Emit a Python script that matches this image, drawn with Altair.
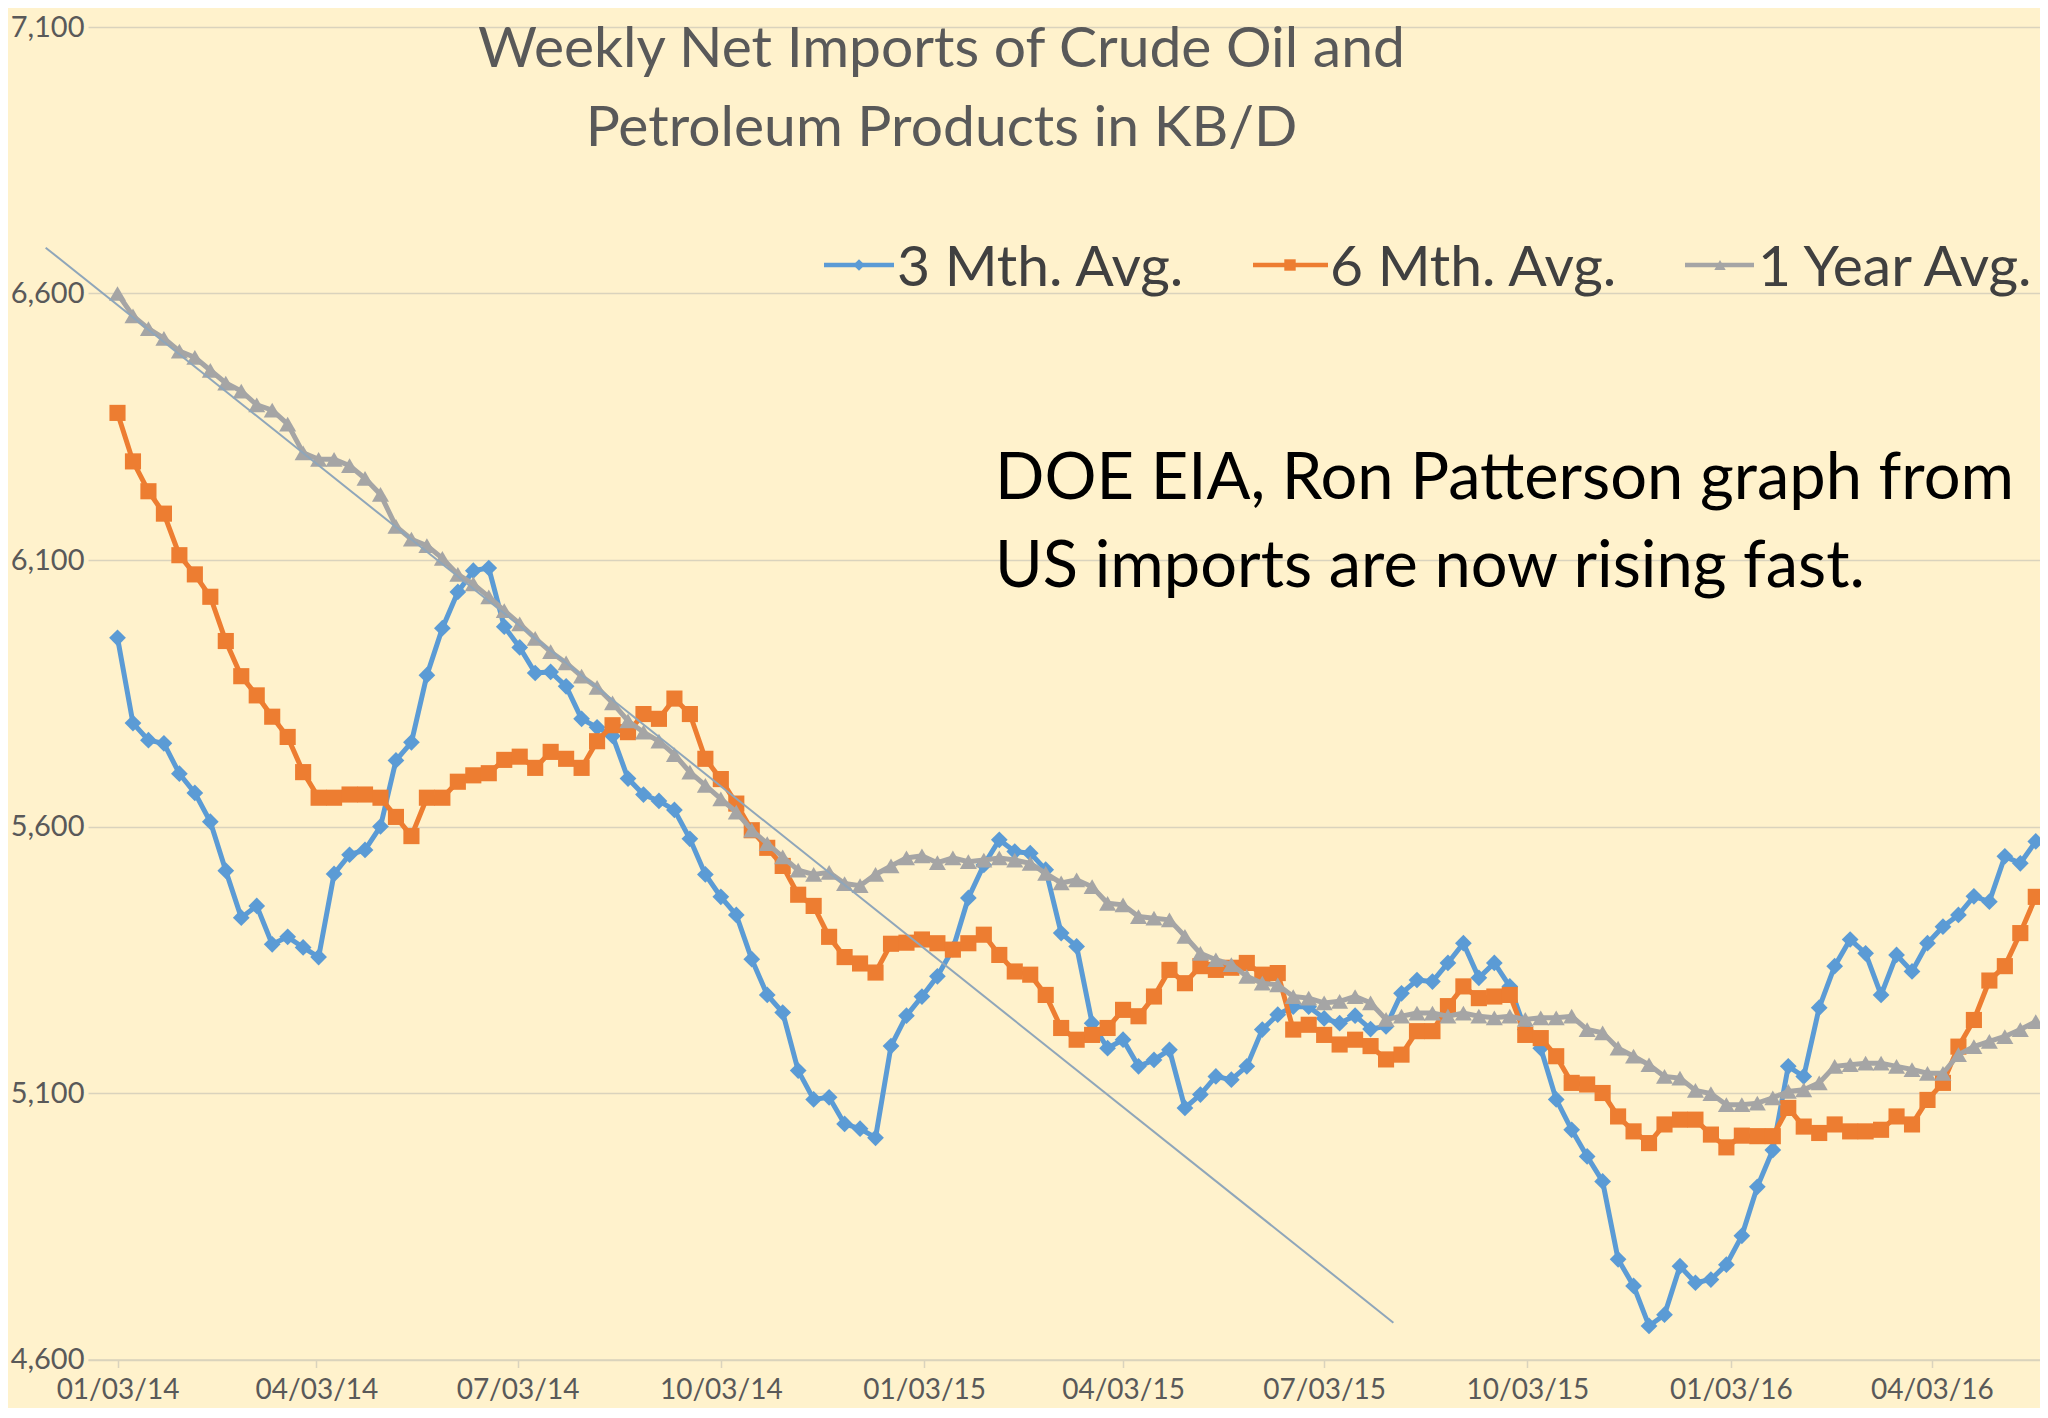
import altair as alt
import pandas as pd

START = "2014-01-03"
N_WEEKS = 125

blue = [5954, 5794, 5762, 5756, 5699, 5663, 5609, 5517, 5429, 5451,
        5379, 5393, 5373, 5355, 5511, 5547, 5556, 5600, 5724, 5758,
        5884, 5972, 6040, 6080, 6085, 5975, 5936, 5888, 5890, 5863,
        5802, 5786, 5770, 5690, 5660, 5648, 5631, 5577, 5510, 5468,
        5434, 5351, 5284, 5251, 5142, 5088, 5092, 5042, 5033, 5016,
        5188, 5245, 5281, 5319, 5370, 5466, 5528, 5575, 5553, 5550,
        5519, 5400, 5375, 5231, 5184, 5200, 5150, 5162, 5181, 5072,
        5097, 5131, 5125, 5150, 5219, 5247, 5262, 5262, 5240, 5231,
        5245, 5220, 5225, 5287, 5312, 5309, 5344, 5381, 5316, 5344,
        5300, 5219, 5184, 5088, 5031, 4981, 4934, 4788, 4738, 4663,
        4684, 4775, 4744, 4750, 4778, 4832, 4924, 4993, 5150, 5131,
        5260, 5338, 5388, 5362, 5284, 5359, 5328, 5381, 5412, 5434,
        5469, 5459, 5544, 5531, 5572]

orange = [6376, 6285, 6229, 6187, 6109, 6073, 6031, 5948, 5882, 5846,
          5806, 5768, 5702, 5654, 5654, 5660, 5660, 5654, 5618, 5582,
          5654, 5654, 5684, 5696, 5700, 5725, 5731, 5710, 5740, 5727,
          5710, 5760, 5790, 5777, 5811, 5802, 5840, 5811, 5727, 5689,
          5643, 5593, 5560, 5526, 5472, 5451, 5393, 5355, 5343, 5326,
          5380, 5382, 5388, 5381, 5369, 5381, 5397, 5359, 5328, 5322,
          5284, 5222, 5200, 5209, 5222, 5256, 5244, 5281, 5331, 5306,
          5338, 5331, 5335, 5344, 5322, 5325, 5219, 5228, 5209, 5191,
          5200, 5188, 5163, 5172, 5216, 5216, 5263, 5300, 5278, 5281,
          5284, 5209, 5203, 5169, 5119, 5116, 5100, 5056, 5028, 5006,
          5041, 5050, 5050, 5022, 4998, 5020, 5019, 5019, 5072, 5037,
          5025, 5041, 5028, 5028, 5031, 5056, 5041, 5087, 5119, 5187,
          5237, 5311, 5338, 5400, 5468]

gray = [6600, 6558, 6534, 6516, 6492, 6480, 6456, 6432, 6417, 6391,
        6381, 6355, 6301, 6289, 6289, 6277, 6253, 6223, 6163, 6139,
        6127, 6103, 6073, 6055, 6031, 6005, 5980, 5953, 5928, 5907,
        5882, 5861, 5832, 5798, 5777, 5760, 5735, 5702, 5677, 5652,
        5627, 5593, 5568, 5543, 5518, 5510, 5514, 5493, 5489, 5510,
        5526, 5541, 5545, 5532, 5541, 5534, 5537, 5541, 5537, 5531,
        5512, 5494, 5500, 5487, 5456, 5453, 5431, 5428, 5425, 5394,
        5362, 5350, 5341, 5319, 5306, 5303, 5281, 5278, 5269, 5272,
        5281, 5269, 5238, 5244, 5250, 5250, 5244, 5250, 5244, 5241,
        5244, 5238, 5241, 5241, 5244, 5219, 5213, 5184, 5169, 5153,
        5131, 5128, 5105, 5099, 5078, 5078, 5081, 5091, 5103, 5106,
        5119, 5150, 5153, 5156, 5156, 5150, 5144, 5137, 5137, 5172,
        5187, 5197, 5206, 5219, 5234]

series_names = ["3 Mth. Avg.", "6 Mth. Avg.", "1 Year Avg."]
series_colors = ["#5B9BD5", "#ED7D31", "#A5A5A5"]
series_shapes = ["diamond", "square", "triangle-up"]
series_sizes = [280, 260, 290]
tick_months = [(2014, 1), (2014, 4), (2014, 7), (2014, 10), (2015, 1),
               (2015, 4), (2015, 7), (2015, 10), (2016, 1), (2016, 4)]
y_ticks = [4600, 5100, 5600, 6100, 6600, 7100]
title_lines = ["Weekly Net Imports of Crude Oil and", "Petroleum Products in KB/D"]
note_lines = ["DOE EIA, Ron Patterson graph from", "US imports are now rising fast."]
trend_dates = ["2013-12-01T12:00:00", "2015-08-03T08:00:00"]
trend_values = [6686, 4669]

BG = "#FFF2CC"
GRID = "#DAD3BD"
FONT = "Lato"

dates = pd.date_range(START, periods=N_WEEKS, freq="7D")
PLOT_W, PLOT_H = 1952, 1332.5
TOP = 19.0
PX_PER_DAY = 2.21
d0 = pd.Timestamp(START) - pd.Timedelta(days=29.5 / PX_PER_DAY)
d1 = d0 + pd.Timedelta(days=PLOT_W / PX_PER_DAY)
dy = 15.5 - TOP  # keep page positions of overlaid texts


def dt(t):
    return alt.DateTime(year=t.year, month=t.month, date=t.day,
                        hours=t.hour, minutes=t.minute)


x_enc = alt.X(
    "date:T",
    scale=alt.Scale(domain=[dt(d0), dt(d1)], nice=False),
    axis=alt.Axis(
        values=[alt.DateTime(year=y, month=m, date=3) for y, m in tick_months],
        format="%m/%d/%y", title=None, grid=False,
        domain=True, domainColor=GRID, domainWidth=1.5,
        ticks=True, tickColor=GRID, tickWidth=1.5, tickSize=8,
        labelFont=FONT, labelFontSize=28, labelColor="#595959",
        labelBaseline="middle", labelPadding=23,
        labelFlush=False, labelOverlap=False,
    ),
)
y_enc = alt.Y(
    "value:Q",
    scale=alt.Scale(domain=[4600, 7100], nice=False, zero=False),
    axis=alt.Axis(
        values=y_ticks, format=",d", title=None,
        grid=True, gridColor=GRID, gridWidth=1.5,
        domain=False, ticks=False,
        labelFont=FONT, labelFontSize=29, labelColor="#595959",
        labelPadding=4,
    ),
)

layers = []
for name, vals, color, shape, size in zip(series_names, [blue, orange, gray],
                                          series_colors, series_shapes,
                                          series_sizes):
    df = pd.DataFrame({"date": dates, "value": vals})
    layers.append(
        alt.Chart(df).mark_line(
            color=color, strokeWidth=5,
            point=alt.OverlayMarkDef(shape=shape, size=size, filled=True,
                                     color=color, opacity=1),
        ).encode(x=x_enc, y=y_enc)
    )

trend_df = pd.DataFrame({"date": trend_dates, "value": trend_values})
layers.append(
    alt.Chart(trend_df).mark_line(color="#8FA6BA", strokeWidth=2)
    .encode(x="date:T", y="value:Q")
)

# title
for line, yb in zip(title_lines, [43.5, 122.5]):
    layers.append(
        alt.Chart(pd.DataFrame({"t": [line]})).mark_text(
            align="center", baseline="alphabetic", font=FONT, fontSize=57,
            color="#595959",
        ).encode(text="t:N", x=alt.value(853.5), y=alt.value(yb + dy))
    )

# annotation
for line, yb in zip(note_lines, [475, 563]):
    layers.append(
        alt.Chart(pd.DataFrame({"t": [line]})).mark_text(
            align="left", baseline="alphabetic", font=FONT, fontSize=65,
            color="#000000",
        ).encode(text="t:N", x=alt.value(907), y=alt.value(yb + dy))
    )

# legend
leg_y = 241.5 + dy
leg_items = [(736, 806, 771, 809), (1165, 1240, 1202, 1242), (1597, 1666, 1632, 1670)]
for (name, color, shape), (xa, xb, xm, xt) in zip(
        zip(series_names, series_colors, series_shapes), leg_items):
    d = pd.DataFrame({"t": [name]})
    layers.append(alt.Chart(d).mark_rule(color=color, strokeWidth=4.5).encode(
        x=alt.value(xa), x2=alt.value(xb), y=alt.value(leg_y)))
    layers.append(alt.Chart(d).mark_point(shape=shape, size=130, filled=True,
                                          color=color, opacity=1).encode(
        x=alt.value(xm), y=alt.value(leg_y)))
    layers.append(alt.Chart(d).mark_text(
        align="left", baseline="alphabetic", font=FONT, fontSize=57,
        color="#404040").encode(text="t:N", x=alt.value(xt), y=alt.value(262.3 + dy)))

chart = alt.layer(*layers).properties(
    width=PLOT_W, height=PLOT_H, background=BG,
    padding={"left": 80, "top": TOP, "right": 0, "bottom": 48.5},
    autosize=alt.AutoSizeParams(type="none"),
).configure_view(strokeWidth=0)

chart.save("out.html", embed_options={"renderer": "svg", "actions": False})
